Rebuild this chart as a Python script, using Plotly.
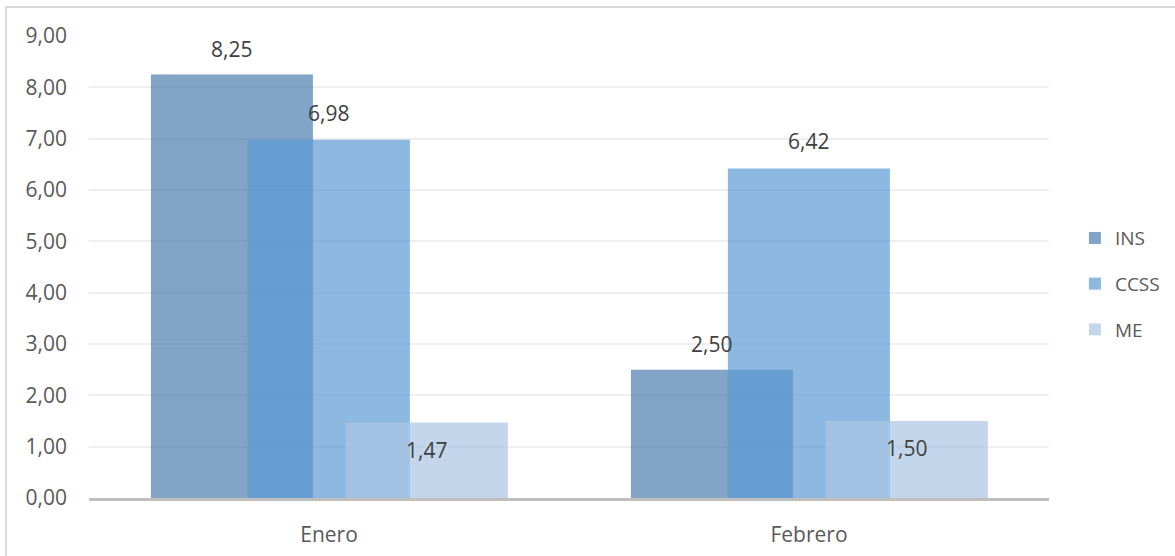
import plotly.graph_objects as go

categories = ["Enero", "Febrero"]
series_names = ["INS", "CCSS", "ME"]
ins_values = [8.25, 2.50]
ccss_values = [6.98, 6.42]
me_values = [1.47, 1.50]
y_ticks = [0, 1, 2, 3, 4, 5, 6, 7, 8, 9]
y_tick_labels = ["0,00", "1,00", "2,00", "3,00", "4,00", "5,00", "6,00", "7,00", "8,00", "9,00"]

colors = ["rgba(75,126,175,0.7)", "rgba(92,154,212,0.7)", "rgba(171,196,228,0.7)"]
offsets = [-0.371, -0.169, 0.035]
bar_width = 0.3375
label_shift = [26, 27, -27]
TXT = "#595959"
FONT = "Open Sans"
FS = 21

fig = go.Figure()
xs = list(range(len(categories)))
all_values = [ins_values, ccss_values, me_values]
for name, vals, col, off in zip(series_names, all_values, colors, offsets):
    fig.add_trace(go.Bar(
        x=xs, y=vals, name=name, width=bar_width, offset=off,
        marker=dict(color=col, line=dict(width=0)),
        legendgroup=name, hoverinfo="skip",
    ))

for vals, off, ys in zip(all_values, offsets, label_shift):
    for i, v in enumerate(vals):
        fig.add_annotation(
            x=i + off + bar_width / 2, y=v, xref="x", yref="y",
            text=f"{v:.2f}".replace(".", ","), showarrow=False,
            yshift=ys, yanchor="middle", xanchor="center",
            font=dict(family=FONT, size=FS, color="#404040"),
        )

fig.update_layout(
    width=1175, height=556,
    margin=dict(l=89, r=126, t=36, b=58, autoexpand=False),
    paper_bgcolor="white", plot_bgcolor="white",
    barmode="overlay",
    font=dict(family=FONT, size=FS, color=TXT),
    showlegend=True,
    legend=dict(x=1.027, xanchor="left", y=0.463, yanchor="middle",
                font=dict(family=FONT, size=19, color=TXT),
                tracegroupgap=18, bgcolor="rgba(0,0,0,0)"),
    xaxis=dict(range=[-0.5, 1.5], tickvals=xs, ticktext=categories,
               showgrid=False, zeroline=False, showline=True, automargin=False,
               linecolor="#bfbfbf", linewidth=2.5, ticks="",
               ticklabelstandoff=16, tickfont=dict(family=FONT, size=FS, color=TXT)),
    yaxis=dict(range=[0, 9], tickvals=y_ticks, ticktext=y_tick_labels,
               showgrid=True, gridcolor="#efefef", gridwidth=1.5, automargin=False,
               zeroline=False, showline=False, ticks="",
               ticklabelstandoff=21, tickfont=dict(family=FONT, size=FS, color=TXT)),
    shapes=[dict(type="rect", xref="paper", yref="paper",
                 x0=-0.0865, x1=1.3, y0=-0.3, y1=1.0628,
                 line=dict(color="#d9d9d9", width=2), fillcolor="rgba(0,0,0,0)",
                 layer="below")],
)

post = (
    "document.documentElement.style.margin='0';"
    "document.documentElement.style.overflow='hidden';"
    "document.body.style.margin='0';"
    "document.body.style.overflow='hidden';"
)
fig.write_html("out.html", config={"displayModeBar": False}, post_script=post)
